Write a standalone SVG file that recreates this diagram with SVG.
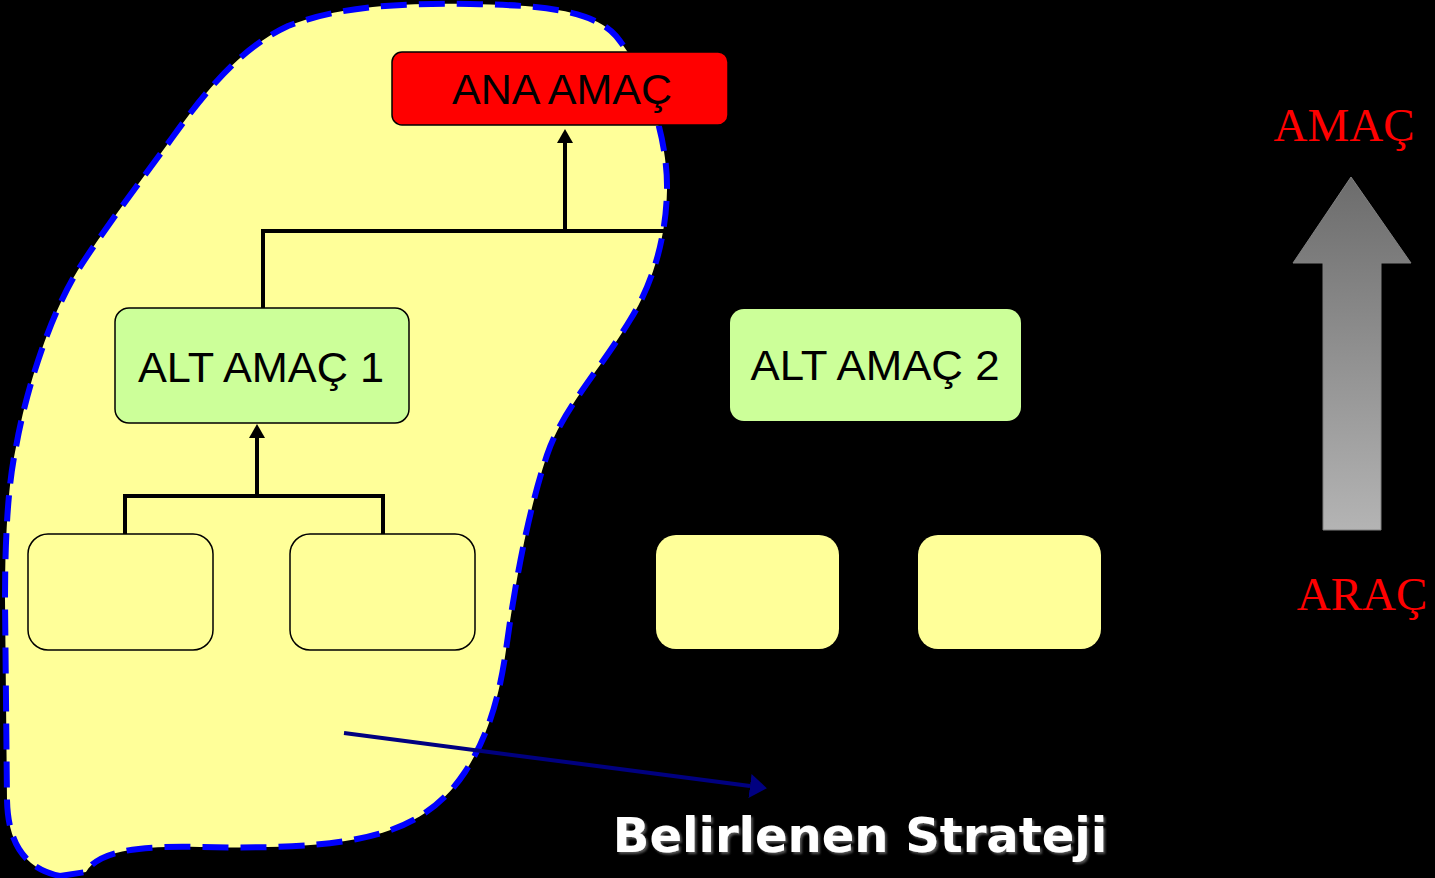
<svg xmlns="http://www.w3.org/2000/svg" width="1435" height="878" viewBox="0 0 1435 878">
  <defs>
    <style>
      .lbl { font-family: "Liberation Sans", Arial, sans-serif; font-size: 43px; fill: #000; text-anchor: middle; }
      .conn { stroke: #000; stroke-width: 4; fill: none; }
      .green { fill: #CCFF99; }
      .yellow { fill: #FFFF99; }
      .edge { stroke: #000; stroke-width: 1.5; }
      .red { font-family: "Liberation Serif", "Times New Roman", serif; font-size: 47px; fill: #FF0000; text-anchor: middle; }
    </style>
    <marker id="ah" viewBox="0 0 14 16" refX="0" refY="8" markerWidth="14" markerHeight="16" markerUnits="userSpaceOnUse" orient="auto">
      <path d="M0,0 L14,8 L0,16 z" fill="#000"/>
    </marker>
    <marker id="ahBlue" viewBox="0 0 17 24" refX="0" refY="12" markerWidth="17" markerHeight="24" markerUnits="userSpaceOnUse" orient="auto">
      <path d="M0,0 L17,12 L0,24 z" fill="#000080"/>
    </marker>
    <linearGradient id="gArrow" x1="0" y1="0" x2="0" y2="1">
      <stop offset="0" stop-color="#6C6C6C"/>
      <stop offset="1" stop-color="#B4B4B4"/>
    </linearGradient>
    <filter id="shadow" x="-5%" y="-20%" width="110%" height="150%">
      <feDropShadow dx="2" dy="2" stdDeviation="1.2" flood-color="#555" flood-opacity="1"/>
    </filter>
  </defs>

  <rect x="0" y="0" width="1435" height="878" fill="#000"/>

  <g id="strategy-region">
    <path d="M 60 876 C 22 868, 8 840, 7 800 L 5 600 C 5 520, 10 475, 16 447 C 26 390, 50 315, 78 270 C 105 228, 140 182, 172 138 C 205 92, 240 48, 288 26 C 340 6, 400 3, 470 4 C 530 5, 592 8, 616 36 C 648 75, 668 140, 667 190 C 666 240, 652 285, 630 320 C 600 370, 562 410, 547 455 C 527 515, 514 590, 506 650 C 499 700, 487 738, 465 772 C 440 810, 405 830, 357 839 C 310 848, 250 848, 200 847 C 150 846, 100 848, 86 872 Z"
          fill="#FFFF99" stroke="#0000FF" stroke-width="6" stroke-dasharray="26 12"/>
  </g>

  <g id="connectors">
    <polyline class="conn" points="263,308 263,231 665,231"/>
    <line class="conn" x1="565" y1="231" x2="565" y2="143" marker-end="url(#ah)"/>
    <polyline class="conn" points="125,534 125,496 383,496 383,534"/>
    <line class="conn" x1="257" y1="496" x2="257" y2="438" marker-end="url(#ah)"/>
    <line x1="344" y1="733" x2="750" y2="786" stroke="#000080" stroke-width="4" marker-end="url(#ahBlue)"/>
  </g>

  <g id="ana-amac">
    <rect x="392" y="52" width="336" height="73" rx="10" fill="#FF0000" stroke="#000" stroke-width="1.5"/>
    <text class="lbl" x="562" y="104" textLength="220" lengthAdjust="spacingAndGlyphs">ANA AMAÇ</text>
  </g>

  <g id="alt-amac-1">
    <rect class="green edge" x="115" y="308" width="294" height="115" rx="14"/>
    <text class="lbl" x="261" y="382" textLength="246" lengthAdjust="spacingAndGlyphs">ALT AMAÇ 1</text>
  </g>

  <g id="alt-amac-2">
    <rect class="green" x="730" y="309" width="291" height="112" rx="14"/>
    <text class="lbl" x="875" y="380" textLength="249" lengthAdjust="spacingAndGlyphs">ALT AMAÇ 2</text>
  </g>

  <g id="box-1a"><rect class="yellow edge" x="28" y="534" width="185" height="116" rx="20"/></g>
  <g id="box-1b"><rect class="yellow edge" x="290" y="534" width="185" height="116" rx="20"/></g>
  <g id="box-2a"><rect class="yellow" x="656" y="535" width="183" height="114" rx="20"/></g>
  <g id="box-2b"><rect class="yellow" x="918" y="535" width="183" height="114" rx="20"/></g>

  <g id="amac-arac">
    <path d="M1351,177 L1411,263 L1381,263 L1381,530 L1323,530 L1323,263 L1293,263 Z" fill="url(#gArrow)" stroke="#808080" stroke-width="1"/>
    <text class="red" x="1344" y="141">AMAÇ</text>
    <text class="red" x="1362" y="610">ARAÇ</text>
  </g>

  <g id="strategy-label">
    <text x="860" y="852" font-family="DejaVu Sans, Verdana, sans-serif" font-weight="bold" font-size="48" fill="#FFFFFF" text-anchor="middle" filter="url(#shadow)">Belirlenen Strateji</text>
  </g>
</svg>
